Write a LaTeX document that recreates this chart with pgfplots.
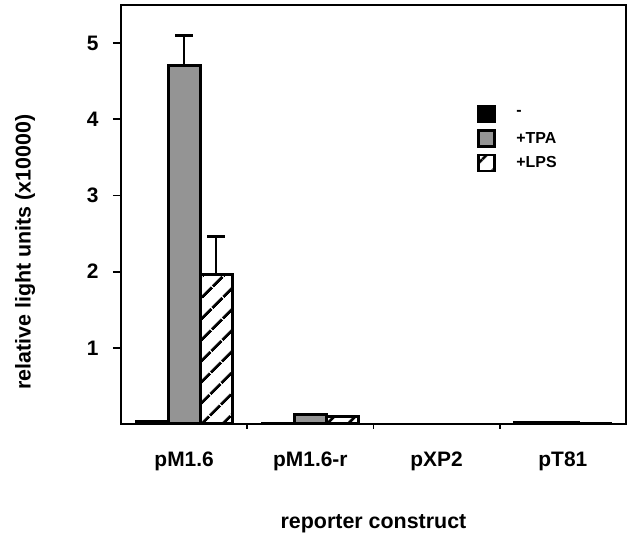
\documentclass[border=0pt]{standalone}
\usepackage{pgfplots}
\pgfplotsset{compat=1.18}
\usetikzlibrary{patterns.meta}
\usepackage{fontspec}
\setmainfont{Liberation Sans}
\begin{document}
\begin{tikzpicture}
\begin{axis}[
 scale only axis, width=505bp, height=419bp,
 xmin=-0.5, xmax=3.5, ymin=0, ymax=5.5,
 ybar=0pt, bar width=32bp,
 legend image code/.code={\draw[#1,line width=2.4pt] (0bp,-8bp) rectangle (16bp,8bp); \path[draw=none] (36bp,0bp);},
 xtick={0,1,2,3}, xticklabels={pM1.6,pM1.6-r,pXP2,pT81},
 minor xtick={0.5,1.5,2.5},
 major x tick style={draw=none},
 ytick={1,2,3,4,5},
 tick align=outside, xtick pos=bottom, ytick pos=left,
 major tick length=8bp, minor tick length=5bp,
 axis line style={line width=2pt},
 tick style={line width=1.8pt, black},
 /pgf/number format/assume math mode=true,
 ticklabel style={font=\fontsize{21}{24}\selectfont\bfseries},
 yticklabel style={xshift=-11bp},
 xticklabel style={yshift=-16bp},
 xlabel={reporter construct},
 ylabel={relative light units (x10000)},
 label style={font=\fontsize{21.5}{24}\selectfont\bfseries},
 xlabel style={at={(axis description cs:0.5,0)}, anchor=center, yshift=-100bp},
 ylabel style={at={(axis description cs:-0.190,0.41)}, anchor=center},
 legend style={at={(axis description cs:0.705,0.762)}, anchor=north west, draw=none, fill=none,
   font=\fontsize{16}{18}\selectfont\bfseries, row sep=6bp, inner sep=0pt},
 legend cell align=left,
 error bars/y dir=plus, error bars/y explicit,
 error bars/error bar style={line width=2.4pt, black},
 error bars/error mark options={rotate=90, mark size=9bp, line width=2.4pt, black},
]
\addplot[draw=black, line width=3pt, fill=black] coordinates {(0,0.03) +- (0,0) (1,0.01) +- (0,0) (3,0.02) +- (0,0)};
\addlegendentry{-}
\addplot[draw=black, line width=3pt, fill=black!42] coordinates {(0,4.70) +- (0,0.40) (1,0.13) +- (0,0) (3,0.02) +- (0,0)};
\addlegendentry{+TPA}
\addplot[draw=black, line width=3pt, fill=white, pattern={Lines[angle=45,distance=15bp,line width=3pt]}] coordinates {(0,1.96) +- (0,0.50) (1,0.10) +- (0,0) (3,0.01) +- (0,0)};
\addlegendentry{+LPS}
\end{axis}
\pgfresetboundingbox
\path[use as bounding box] ([shift={(-121bp,-111bp)}]current axis.south west) rectangle ([shift={(7bp,5bp)}]current axis.north east);
\end{tikzpicture}
\end{document}
